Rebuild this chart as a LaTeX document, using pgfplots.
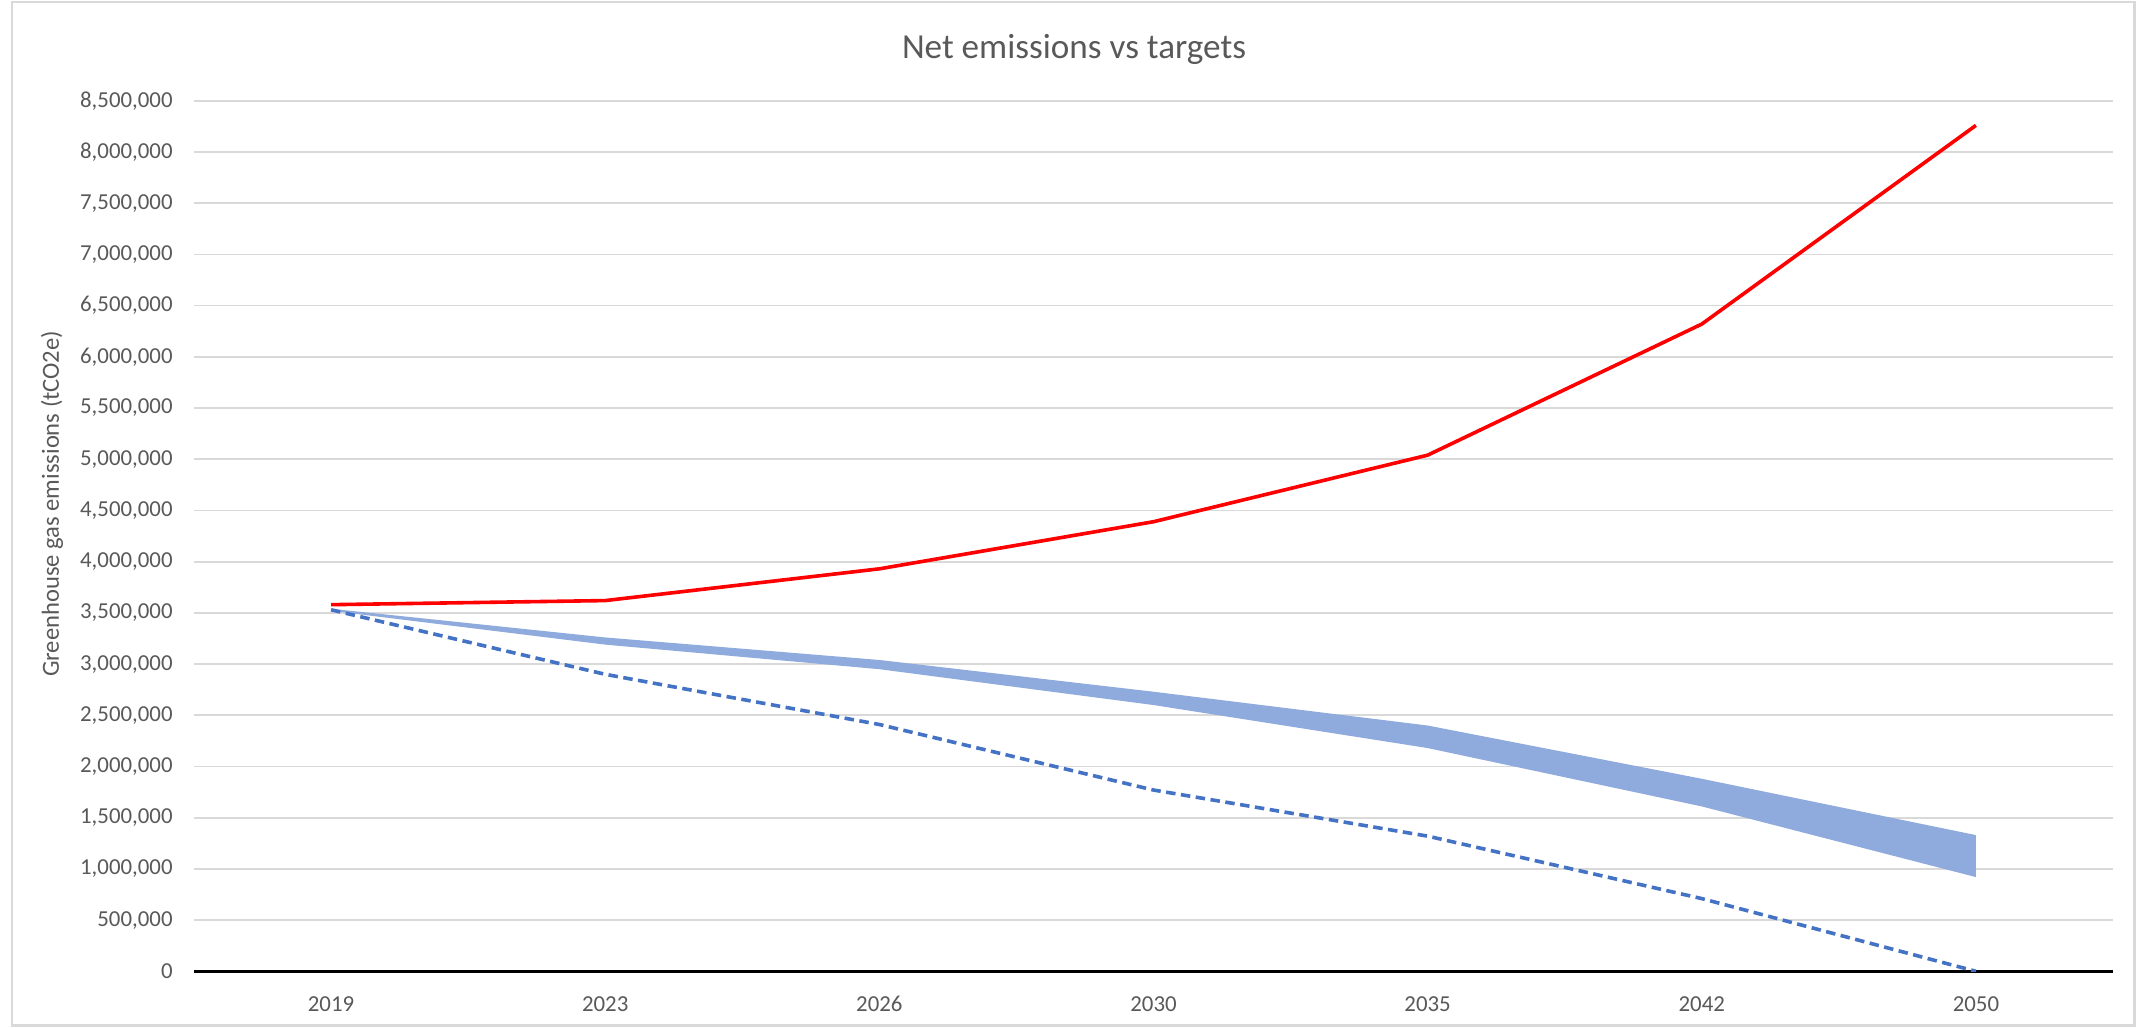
\documentclass[border=0pt]{standalone}
\usepackage{fontspec}
\setmainfont{Carlito}
\usepackage{pgfplots}
\usepackage{pgfplotstable}
\pgfplotsset{compat=1.18}
\usepgfplotslibrary{fillbetween}
\definecolor{redl}{HTML}{FF0000}
\definecolor{dashb}{HTML}{4472C4}
\definecolor{bandb}{HTML}{8FAADC}
\definecolor{gridc}{HTML}{D9D9D9}
\definecolor{txt}{HTML}{595959}

\pgfplotstableread{
x net upper lower target
0 3580000 3540000 3520000 3530000
1 3620000 3260000 3190000 2900000
2 3930000 3040000 2950000 2410000
3 4390000 2730000 2600000 1770000
4 5040000 2400000 2180000 1320000
5 6320000 1880000 1610000 710000
6 8260000 1330000 920000 0
}\datatable

\begin{document}
\begin{tikzpicture}
\path (0mm,0mm) rectangle (213.6mm,102.7mm);
\draw[gridc, line width=0.25mm] (1.2mm,0.15mm) rectangle (213.45mm,102.5mm);
\node[txt, font=\fontsize{10}{12}\selectfont] at (107.4mm,97.8mm) {Net emissions vs targets};
\begin{axis}[
  at={(19.4mm,5.57mm)}, anchor=south west,
  scale only axis, width=191.9mm, height=87.05mm,
  xmin=-0.5, xmax=6.5, ymin=0, ymax=8500000,
  xtick={0,1,2,3,4,5,6},
  xticklabels={2019,2023,2026,2030,2035,2042,2050},
  ytick={0,500000,1000000,1500000,2000000,2500000,3000000,3500000,4000000,4500000,5000000,5500000,6000000,6500000,7000000,7500000,8000000,8500000},
  scaled y ticks=false,
  yticklabel style={/pgf/number format/fixed, /pgf/number format/1000 sep={,}, /pgf/number format/assume math mode=true, xshift=-0.9mm},
  ticklabel style={font=\fontsize{6.5}{7.8}\selectfont, text=txt},
  xticklabel style={anchor=center, yshift=-3.3mm},
  major tick length=0pt,
  axis x line*=bottom, axis y line*=left,
  y axis line style={draw=none},
  x axis line style={black, line width=0.25mm, -},
  ymajorgrids, grid style={gridc, line width=0.17mm},
  ylabel={Greenhouse gas emissions (tCO2e)},
  ylabel style={at={(axis description cs:-0.074,0.537)}, anchor=center, font=\fontsize{7}{8.4}\selectfont, text=txt},
]
\addplot[name path=up, draw=none, forget plot] table[x=x, y=upper] {\datatable};
\addplot[name path=lo, draw=none, forget plot] table[x=x, y=lower] {\datatable};
\addplot[fill=bandb, draw=none] fill between[of=up and lo];
\addplot[dashb, line width=0.36mm, dash pattern=on 0.95mm off 0.55mm] table[x=x, y=target] {\datatable};
\addplot[redl, line width=0.36mm] table[x=x, y=net] {\datatable};
\end{axis}
\end{tikzpicture}
\end{document}
